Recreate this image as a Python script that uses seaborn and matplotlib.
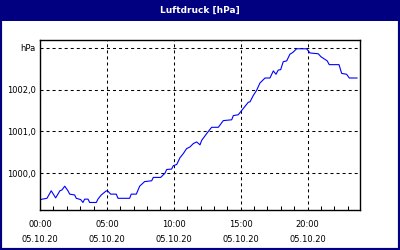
import matplotlib
matplotlib.use("Agg")
import matplotlib.pyplot as plt
import seaborn as sns
from matplotlib.patches import Rectangle
from matplotlib.ticker import MultipleLocator

# time in hours since 00:00 on 05.10.20
hours = [0.0, 0.52, 0.84, 1.17, 1.49, 1.64, 1.85, 2.09, 2.22, 2.59, 2.71, 3.04, 3.21,
         3.34, 3.59, 3.71, 4.21, 4.33, 4.58, 4.96, 5.08, 5.28, 5.70, 5.83, 6.70, 6.82,
         7.20, 7.45, 7.82, 8.35, 8.47, 9.02, 9.34, 9.47, 9.84, 9.96, 10.22, 10.46,
         10.71, 10.96, 11.21, 11.46, 11.71, 11.96, 12.09, 12.58, 12.83, 13.33, 13.70,
         14.33, 14.45, 14.82, 15.07, 15.32, 15.57, 15.70, 15.94, 16.20, 16.44, 16.82,
         17.19, 17.44, 17.64, 17.81, 17.99, 18.18, 18.44, 18.68, 18.89, 19.18, 19.93,
         20.18, 20.80, 21.00, 21.47, 21.62, 22.35, 22.55, 22.92, 23.12, 23.71]
pressure = [999.37, 999.40, 999.58, 999.41, 999.58, 999.60, 999.69, 999.58, 999.50,
            999.48, 999.40, 999.37, 999.30, 999.38, 999.38, 999.30, 999.30, 999.38,
            999.48, 999.58, 999.57, 999.50, 999.50, 999.40, 999.40, 999.50, 999.50,
            999.69, 999.80, 999.82, 999.90, 999.90, 1000.00, 1000.09, 1000.10, 1000.18,
            1000.21, 1000.37, 1000.47, 1000.59, 1000.63, 1000.71, 1000.75, 1000.68,
            1000.79, 1001.00, 1001.10, 1001.10, 1001.26, 1001.28, 1001.38, 1001.40,
            1001.50, 1001.60, 1001.70, 1001.71, 1001.86, 1001.99, 1002.16, 1002.28,
            1002.28, 1002.45, 1002.37, 1002.47, 1002.48, 1002.67, 1002.69, 1002.85,
            1002.89, 1002.98, 1002.98, 1002.88, 1002.86, 1002.79, 1002.69, 1002.60,
            1002.60, 1002.39, 1002.37, 1002.28, 1002.28]

yticks = [1000.0, 1001.0, 1002.0, 1003.0]
ytick_labels = ["1000,0", "1001,0", "1002,0", "hPa"]
xticks = [0, 5, 10, 15, 20]
xtick_labels = ["00:00\n05.10.20", "05:00\n05.10.20", "10:00\n05.10.20",
                "15:00\n05.10.20", "20:00\n05.10.20"]
title = "Luftdruck [hPa]"

sns.set_theme(style="white")
plt.rcParams['font.family'] = ['DejaVu Sans']

fig = plt.figure(figsize=(4, 2.5), dpi=100)
fig.patch.set_facecolor('white')

# title bar and frame
navy = '#000080'
fig.add_artist(Rectangle((0, 1 - 21 / 250), 1, 21 / 250, transform=fig.transFigure,
                         facecolor=navy, edgecolor='none'))
fig.add_artist(Rectangle((0, 0), 1, 1, transform=fig.transFigure, fill=False,
                         edgecolor=navy, linewidth=3))
fig.text(0.5, 1 - 10.5 / 250, title, color='white', fontsize=6.5, fontweight='bold',
         ha='center', va='center')

ax = fig.add_axes([0.1, 0.16, 0.8, 0.68])
ax.set_facecolor('white')
sns.lineplot(x=hours, y=pressure, ax=ax, color='#0000ff', linewidth=0.8,
             estimator=None)

ax.set_xlim(0, 23.92)
ax.set_ylim(999.12, 1003.19)
ax.set_xticks(xticks)
ax.set_xticklabels(xtick_labels)
ax.set_yticks(yticks)
ax.set_yticklabels(ytick_labels)
ax.xaxis.set_minor_locator(MultipleLocator(1))

ax.tick_params(axis='x', which='major', length=0, pad=7, labelsize=6, colors='black')
ax.tick_params(axis='x', which='minor', direction='in', length=3, width=0.75,
               color='black', bottom=True)
ax.tick_params(axis='y', which='major', length=0, pad=3, labelsize=6, colors='black')
for lbl in ax.get_xticklabels():
    lbl.set_linespacing(1.9)

ax.grid(True, which='major', color='black', linestyle=(0, (2.9, 2.9)), linewidth=0.75)
for s in ax.spines.values():
    s.set_color('black')
    s.set_linewidth(1)
ax.set_xlabel('')
ax.set_ylabel('')

fig.savefig('out.png', dpi=100)
